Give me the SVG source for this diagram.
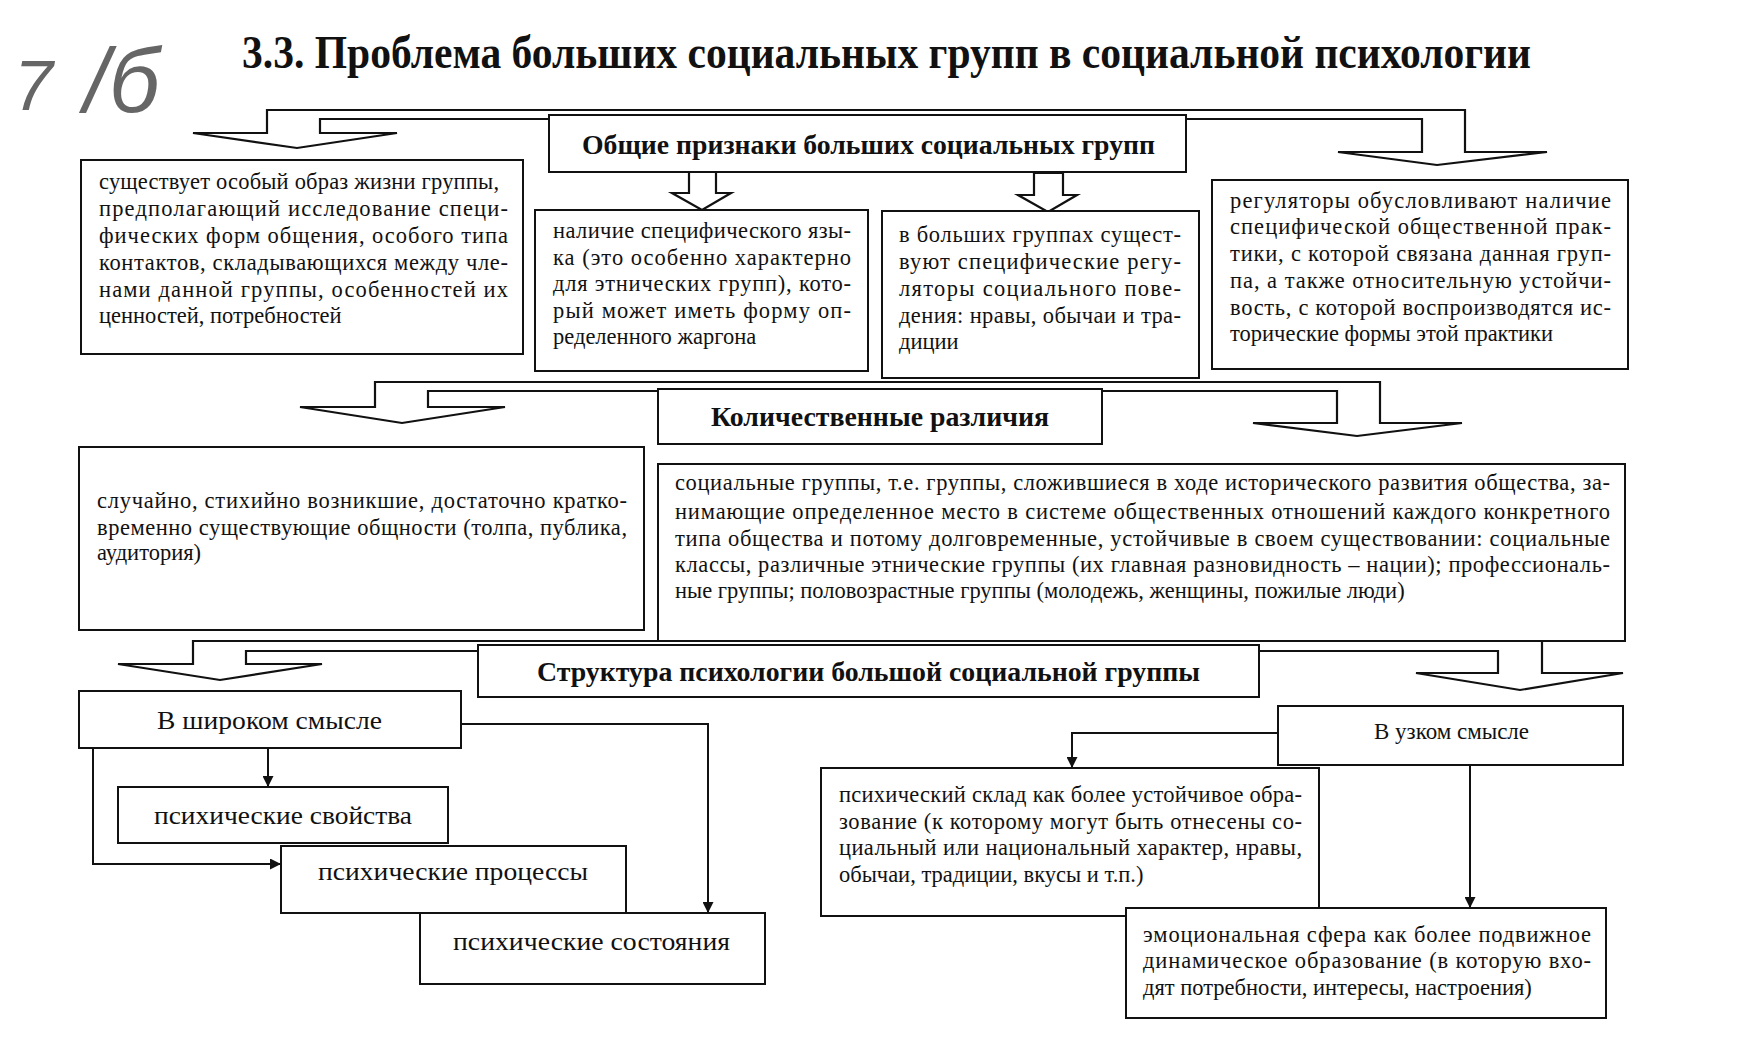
<svg xmlns="http://www.w3.org/2000/svg" width="1763" height="1050" viewBox="0 0 1763 1050">
<defs>
<marker id="ah" viewBox="0 0 10 10" refX="10" refY="5" markerWidth="11" markerHeight="11" markerUnits="userSpaceOnUse" orient="auto">
<path d="M0,0 L10,5 L0,10 z" fill="#111"/>
</marker>
<style>
.box{fill:#fff;stroke:#111;stroke-width:2}
.blk{fill:#fff;stroke:#111;stroke-width:2.2;stroke-linejoin:miter}
.t{font-family:"Liberation Serif","Times New Roman",serif;font-size:22.5px;fill:#111}
.h{font-family:"Liberation Serif","Times New Roman",serif;font-size:28px;font-weight:bold;fill:#111}
.m{font-family:"Liberation Serif","Times New Roman",serif;font-size:26px;fill:#111}
.ln{fill:none;stroke:#111;stroke-width:2}
.hw{font-family:"Liberation Sans",Arial,sans-serif;font-style:italic;fill:#666}
</style>
</defs>
<rect width="1763" height="1050" fill="#fff"/>

<g id="handnote">
<text class="hw" x="14" y="110" font-size="70">7</text>
<text class="hw" x="84" y="112" font-size="90">/б</text>
</g>

<g id="title">
<text x="242" y="68" font-family="Liberation Serif, Times New Roman, serif" font-size="46" font-weight="bold" fill="#111" textLength="1289" lengthAdjust="spacingAndGlyphs">3.3. Проблема больших социальных групп в социальной психологии</text>
</g>

<g id="connectors">
<polygon class="blk" points="549,119 320,119 320,133 397,133 297,148 193,133 267,133 267,110 1465,110 1465,152 1547,152 1437,165 1338,152 1422,152 1422,119 1186,119"/>
<polygon class="blk" points="689,172 689,193 672,193 702,210 731,193 716,193 716,172"/>
<polygon class="blk" points="1034,173 1034,195 1018,195 1048,212 1077,195 1063,195 1063,173"/>
<polygon class="blk" points="658,391 428,391 428,407 505,407 402,423 300,407 375,407 375,382 1380,382 1380,423 1462,423 1357,436 1253,423 1337,423 1337,391 1102,391"/>
<polygon class="blk" points="478,651 246,651 246,664 322,664 220,680 118,664 193,664 193,641 1542,641 1542,673 1623,673 1520,690 1416,673 1498,673 1498,651 1259,651"/>
<path class="ln" d="M268,748 L268,787" marker-end="url(#ah)"/>
<path class="ln" d="M93,748 L93,864 L281,864" marker-end="url(#ah)"/>
<path class="ln" d="M461,724 L708,724 L708,913" marker-end="url(#ah)"/>
<path class="ln" d="M1278,733 L1072,733 L1072,768" marker-end="url(#ah)"/>
<path class="ln" d="M1470,765 L1470,908" marker-end="url(#ah)"/>
</g>

<g id="n-common">
<rect class="box" x="549" y="115" width="637" height="57"/>
<text class="h" x="582" y="154" textLength="573" lengthAdjust="spacingAndGlyphs">Общие признаки больших социальных групп</text>
</g>

<g id="n-lifestyle">
<rect class="box" x="81" y="160" width="442" height="194"/>
<text class="t" x="99" y="189" textLength="400" lengthAdjust="spacing">существует особый образ жизни группы,</text>
<text class="t" x="99" y="216" textLength="409" lengthAdjust="spacing">предполагающий исследование специ-</text>
<text class="t" x="99" y="243" textLength="409" lengthAdjust="spacing">фических форм общения, особого типа</text>
<text class="t" x="99" y="270" textLength="409" lengthAdjust="spacing">контактов, складывающихся между чле-</text>
<text class="t" x="99" y="297" textLength="409" lengthAdjust="spacing">нами данной группы, особенностей их</text>
<text class="t" x="99" y="323">ценностей, потребностей</text>
</g>

<g id="n-language">
<rect class="box" x="535" y="210" width="333" height="161"/>
<text class="t" x="553" y="238" textLength="298" lengthAdjust="spacing">наличие специфического язы-</text>
<text class="t" x="553" y="265" textLength="298" lengthAdjust="spacing">ка (это особенно характерно</text>
<text class="t" x="553" y="291" textLength="298" lengthAdjust="spacing">для этнических групп), кото-</text>
<text class="t" x="553" y="318" textLength="298" lengthAdjust="spacing">рый может иметь форму оп-</text>
<text class="t" x="553" y="344">ределенного жаргона</text>
</g>

<g id="n-regulators">
<rect class="box" x="882" y="211" width="317" height="167"/>
<text class="t" x="899" y="242" textLength="282" lengthAdjust="spacing">в больших группах сущест-</text>
<text class="t" x="899" y="269" textLength="282" lengthAdjust="spacing">вуют специфические регу-</text>
<text class="t" x="899" y="296" textLength="282" lengthAdjust="spacing">ляторы социального пове-</text>
<text class="t" x="899" y="323" textLength="282" lengthAdjust="spacing">дения: нравы, обычаи и тра-</text>
<text class="t" x="899" y="349">диции</text>
</g>

<g id="n-practice">
<rect class="box" x="1212" y="180" width="416" height="189"/>
<text class="t" x="1230" y="208" textLength="381" lengthAdjust="spacing">регуляторы обусловливают наличие</text>
<text class="t" x="1230" y="234" textLength="381" lengthAdjust="spacing">специфической общественной прак-</text>
<text class="t" x="1230" y="261" textLength="381" lengthAdjust="spacing">тики, с которой связана данная груп-</text>
<text class="t" x="1230" y="288" textLength="381" lengthAdjust="spacing">па, а также относительную устойчи-</text>
<text class="t" x="1230" y="315" textLength="381" lengthAdjust="spacing">вость, с которой воспроизводятся ис-</text>
<text class="t" x="1230" y="341">торические формы этой практики</text>
</g>

<g id="n-quantitative">
<rect class="box" x="658" y="389" width="444" height="55"/>
<text class="h" x="711" y="426" textLength="338" lengthAdjust="spacingAndGlyphs">Количественные различия</text>
</g>

<g id="n-spontaneous">
<rect class="box" x="79" y="447" width="565" height="183"/>
<text class="t" x="97" y="508" textLength="530" lengthAdjust="spacing">случайно, стихийно возникшие, достаточно кратко-</text>
<text class="t" x="97" y="535" textLength="530" lengthAdjust="spacing">временно существующие общности (толпа, публика,</text>
<text class="t" x="97" y="560">аудитория)</text>
</g>

<g id="n-social-groups">
<rect class="box" x="658" y="464" width="967" height="177"/>
<text class="t" x="675" y="490" textLength="935" lengthAdjust="spacing">социальные группы, т.е. группы, сложившиеся в ходе исторического развития общества, за-</text>
<text class="t" x="675" y="519" textLength="935" lengthAdjust="spacing">нимающие определенное место в системе общественных отношений каждого конкретного</text>
<text class="t" x="675" y="546" textLength="935" lengthAdjust="spacing">типа общества и потому долговременные, устойчивые в своем существовании: социальные</text>
<text class="t" x="675" y="572" textLength="935" lengthAdjust="spacing">классы, различные этнические группы (их главная разновидность – нации); профессиональ-</text>
<text class="t" x="675" y="598">ные группы; половозрастные группы (молодежь, женщины, пожилые люди)</text>
</g>

<g id="n-structure">
<rect class="box" x="478" y="645" width="781" height="52"/>
<text class="h" x="537" y="681" textLength="663" lengthAdjust="spacingAndGlyphs">Структура психологии большой социальной группы</text>
</g>

<g id="n-broad">
<rect class="box" x="79" y="691" width="382" height="57"/>
<text class="m" x="157" y="729" textLength="225" lengthAdjust="spacingAndGlyphs">В широком смысле</text>
</g>

<g id="n-properties">
<rect class="box" x="118" y="787" width="330" height="56"/>
<text class="m" x="154" y="824" textLength="258" lengthAdjust="spacingAndGlyphs">психические свойства</text>
</g>

<g id="n-processes">
<rect class="box" x="281" y="846" width="345" height="67"/>
<text class="m" x="318" y="880" textLength="270" lengthAdjust="spacingAndGlyphs">психические процессы</text>
</g>

<g id="n-states">
<rect class="box" x="420" y="913" width="345" height="71"/>
<text class="m" x="453" y="950" textLength="277" lengthAdjust="spacingAndGlyphs">психические состояния</text>
</g>

<g id="n-narrow">
<rect class="box" x="1278" y="706" width="345" height="59"/>
<text class="t" x="1374" y="739" textLength="155" lengthAdjust="spacingAndGlyphs">В узком смысле</text>
</g>

<g id="n-mental-makeup">
<rect class="box" x="821" y="768" width="498" height="148"/>
<text class="t" x="839" y="802" textLength="463" lengthAdjust="spacing">психический склад как более устойчивое обра-</text>
<text class="t" x="839" y="829" textLength="463" lengthAdjust="spacing">зование (к которому могут быть отнесены со-</text>
<text class="t" x="839" y="855" textLength="463" lengthAdjust="spacing">циальный или национальный характер, нравы,</text>
<text class="t" x="839" y="882">обычаи, традиции, вкусы и т.п.)</text>
</g>

<g id="n-emotional">
<rect class="box" x="1126" y="908" width="480" height="110"/>
<text class="t" x="1143" y="942" textLength="448" lengthAdjust="spacing">эмоциональная сфера как более подвижное</text>
<text class="t" x="1143" y="968" textLength="448" lengthAdjust="spacing">динамическое образование (в которую вхо-</text>
<text class="t" x="1143" y="995">дят потребности, интересы, настроения)</text>
</g>
</svg>
